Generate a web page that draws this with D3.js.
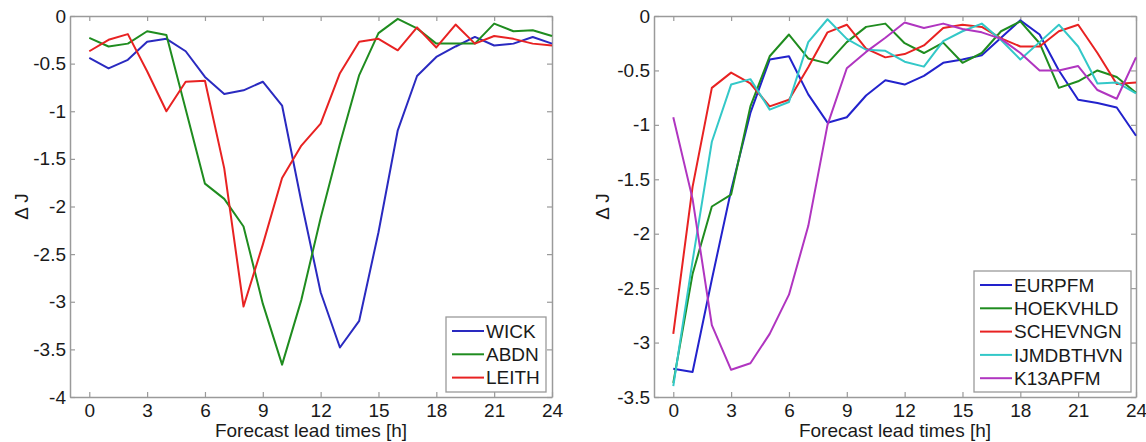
<!DOCTYPE html>
<html>
<head>
<meta charset="utf-8">
<script src="https://cdn.jsdelivr.net/npm/d3@7"></script>
<style>
  html, body { margin: 0; padding: 0; background: #fff; }
  svg { display: block; font-family: "Liberation Sans", Arial, sans-serif; }
</style>
</head>
<body>
<svg id="chart" width="1146" height="442"></svg>
<script>
// ---- data ----
const hours = [0,1,2,3,4,5,6,7,8,9,10,11,12,13,14,15,16,17,18,19,20,21,22,23,24];
const xTicks = [0,3,6,9,12,15,18,21,24];

const leftNames = ["WICK", "ABDN", "LEITH"];
const wick  = [-0.44,-0.55,-0.46,-0.27,-0.24,-0.37,-0.64,-0.82,-0.78,-0.69,-0.94,-1.95,-2.9,-3.48,-3.2,-2.27,-1.2,-0.63,-0.43,-0.32,-0.22,-0.31,-0.29,-0.22,-0.29];
const abdn  = [-0.23,-0.32,-0.29,-0.16,-0.2,-0.98,-1.76,-1.92,-2.21,-3.02,-3.66,-2.98,-2.12,-1.34,-0.62,-0.18,-0.03,-0.13,-0.29,-0.29,-0.29,-0.08,-0.16,-0.15,-0.21];
const leith = [-0.37,-0.25,-0.19,-0.58,-1.0,-0.69,-0.68,-1.6,-3.05,-2.4,-1.7,-1.36,-1.13,-0.6,-0.27,-0.24,-0.36,-0.12,-0.33,-0.09,-0.29,-0.21,-0.24,-0.29,-0.31];
const leftYTicks = [0,-0.5,-1,-1.5,-2,-2.5,-3,-3.5,-4];

const rightNames = ["EURPFM", "HOEKVHLD", "SCHEVNGN", "IJMDBTHVN", "K13APFM"];
const eurpfm    = [-3.24,-3.27,-2.42,-1.6,-0.89,-0.40,-0.37,-0.72,-0.98,-0.93,-0.73,-0.59,-0.63,-0.55,-0.43,-0.40,-0.36,-0.2,-0.04,-0.17,-0.50,-0.77,-0.80,-0.84,-1.10];
const hoekvhld  = [-3.37,-2.37,-1.75,-1.64,-0.83,-0.37,-0.17,-0.39,-0.435,-0.24,-0.10,-0.07,-0.25,-0.34,-0.245,-0.43,-0.34,-0.14,-0.05,-0.25,-0.66,-0.60,-0.50,-0.56,-0.705];
const schevngn  = [-2.92,-1.57,-0.66,-0.52,-0.62,-0.83,-0.77,-0.47,-0.15,-0.08,-0.3,-0.38,-0.35,-0.27,-0.11,-0.08,-0.10,-0.205,-0.28,-0.28,-0.14,-0.08,-0.34,-0.625,-0.61];
const ijmdbthvn = [-3.40,-2.25,-1.155,-0.63,-0.58,-0.86,-0.79,-0.24,-0.03,-0.21,-0.31,-0.32,-0.42,-0.465,-0.23,-0.14,-0.07,-0.22,-0.40,-0.24,-0.08,-0.28,-0.62,-0.61,-0.71];
const k13apfm   = [-0.93,-1.68,-2.84,-3.25,-3.19,-2.92,-2.56,-1.93,-1.0,-0.48,-0.33,-0.2,-0.06,-0.11,-0.07,-0.12,-0.15,-0.21,-0.34,-0.50,-0.50,-0.46,-0.68,-0.76,-0.38];
const rightYTicks = [0,-0.5,-1,-1.5,-2,-2.5,-3,-3.5];

const leftColors  = ["#2a2ac0", "#1f8c1f", "#e82222"];
const rightColors = ["#2222cc", "#1f8c1f", "#e82222", "#33c8c8", "#b035c0"];

// ---- drawing ----
const svg = d3.select("#chart");
const AXIS = "#9a9a9a";
const TEXT = "#1a1a1a";
const FS = 19;

function panel(opts) {
  const {left, right, top, bottom, yDomain, yTicks, series, names, colors, legend, ylabelX} = opts;
  const x = d3.scaleLinear().domain([-1, 24]).range([left, right]);
  const y = d3.scaleLinear().domain(yDomain).range([bottom, top]);
  const g = svg.append("g");

  const bottomAxis = d3.axisBottom(x).tickValues(xTicks).tickSizeInner(-5).tickSizeOuter(0).tickPadding(6.5).tickFormat(d => String(d));
  const topAxis = d3.axisTop(x).tickValues(xTicks).tickSizeInner(-5).tickSizeOuter(0).tickFormat("");
  const leftAxis = d3.axisLeft(y).tickValues(yTicks).tickSizeInner(-5).tickSizeOuter(0).tickPadding(4).tickFormat(d => String(d));
  const rightAxis = d3.axisRight(y).tickValues(yTicks).tickSizeInner(-5).tickSizeOuter(0).tickFormat("");

  const style = sel => {
    sel.selectAll("path.domain").attr("stroke", AXIS).attr("stroke-width", 1.5);
    sel.selectAll(".tick line").attr("stroke", AXIS).attr("stroke-width", 1.2);
    sel.selectAll(".tick text").attr("fill", TEXT).attr("font-size", FS).attr("font-family", "Liberation Sans, Arial, sans-serif");
  };
  g.append("g").attr("transform", `translate(0,${bottom})`).call(bottomAxis).call(style);
  g.append("g").attr("transform", `translate(0,${top})`).call(topAxis).call(style);
  g.append("g").attr("transform", `translate(${left},0)`).call(leftAxis).call(style);
  g.append("g").attr("transform", `translate(${right},0)`).call(rightAxis).call(style);

  const line = d3.line().x((d, i) => x(hours[i])).y(d => y(d));
  series.forEach((s, i) => {
    g.append("path").datum(s).attr("fill", "none").attr("stroke", colors[i])
      .attr("stroke-width", 2).attr("stroke-linejoin", "round").attr("d", line);
  });

  g.append("text").attr("x", (left + right) / 2).attr("y", 437).attr("text-anchor", "middle")
    .attr("font-size", FS).attr("fill", TEXT).text("Forecast lead times [h]");
  g.append("text").attr("transform", `translate(${ylabelX},${(top + bottom) / 2}) rotate(-90)`)
    .attr("text-anchor", "middle").attr("font-size", FS).attr("fill", TEXT).text("\u0394 J");

  const lg = g.append("g");
  lg.append("rect").attr("x", legend.x).attr("y", legend.y).attr("width", legend.w).attr("height", legend.h)
    .attr("fill", "#fff").attr("stroke", AXIS).attr("stroke-width", 1.3);
  names.forEach((n, i) => {
    const cy = legend.y + 14 + i * 23.3;
    lg.append("line").attr("x1", legend.x + 6).attr("x2", legend.x + 38).attr("y1", cy).attr("y2", cy)
      .attr("stroke", colors[i]).attr("stroke-width", 2);
    lg.append("text").attr("x", legend.x + 40).attr("y", cy + 6.6).attr("font-size", FS).attr("fill", TEXT).text(n);
  });
}

panel({
  left: 70, right: 552, top: 16, bottom: 397,
  yDomain: [-4, 0], yTicks: leftYTicks,
  series: [wick, abdn, leith], names: leftNames, colors: leftColors,
  legend: {x: 446, y: 317, w: 100, h: 75}, ylabelX: 28
});
panel({
  left: 654, right: 1136, top: 16, bottom: 397,
  yDomain: [-3.5, 0], yTicks: rightYTicks,
  series: [eurpfm, hoekvhld, schevngn, ijmdbthvn, k13apfm], names: rightNames, colors: rightColors,
  legend: {x: 974, y: 271, w: 157, h: 121}, ylabelX: 609
});
</script>
</body>
</html>
